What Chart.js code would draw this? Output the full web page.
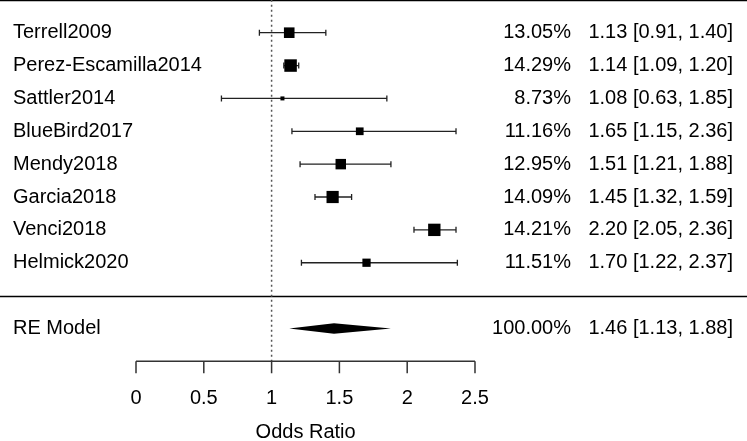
<!DOCTYPE html>
<html>
<head>
<meta charset="utf-8">
<script src="https://cdn.jsdelivr.net/npm/chart.js@4.4.1/dist/chart.umd.min.js"></script>
<style>
  body { margin: 0; background: #fff; }
  canvas { display: block; }
</style>
</head>
<body>
<canvas id="forestChart" width="747" height="441"></canvas>
<script>
// study data, top to bottom
const studies = ['Terrell2009', 'Perez-Escamilla2014', 'Sattler2014', 'BlueBird2017', 'Mendy2018', 'Garcia2018', 'Venci2018', 'Helmick2020'];
const weights = [13.05, 14.29, 8.73, 11.16, 12.95, 14.09, 14.21, 11.51];
const estimates = [1.13, 1.14, 1.08, 1.65, 1.51, 1.45, 2.20, 1.70];
const lower = [0.91, 1.09, 0.63, 1.15, 1.21, 1.32, 2.05, 1.22];
const upper = [1.40, 1.20, 1.85, 2.36, 1.88, 1.59, 2.36, 2.37];

// summary (random effects model)
const summaryLabel = 'RE Model';
const summaryWeight = 100.00;
const summaryEst = 1.46;
const summaryLower = 1.13;
const summaryUpper = 1.88;

// x axis
const tickValues = [0, 0.5, 1, 1.5, 2, 2.5];
const tickLabels = ['0', '0.5', '1', '1.5', '2', '2.5'];
const axisTitle = 'Odds Ratio';
const refLine = 1;

// rows: 8..1 for studies, -1 for summary
const rows = studies.map((s, i) => studies.length - i);
const summaryRow = -1;

const FONT = '20px "Liberation Sans", Arial, sans-serif';
const fmt = v => v.toFixed(2);

// square side in px, scaled between smallest and largest weight
const minW = Math.min(...weights), maxW = Math.max(...weights);
const sides = weights.map(w => 4 + (w - minW) / (maxW - minW) * 8.5);

const forestPlugin = {
    id: 'forest',
    beforeDatasetsDraw(chart) {
        const ctx = chart.ctx;
        const xs = chart.scales.x, ys = chart.scales.y;
        const W = chart.width;
        ctx.save();

        // top rule and separator above the summary
        ctx.strokeStyle = '#000';
        ctx.lineWidth = 1.5;
        [studies.length + 1, 0].forEach(r => {
            const y = Math.round(ys.getPixelForValue(r)) + 0.5;
            ctx.beginPath();
            ctx.moveTo(0, y);
            ctx.lineTo(W, y);
            ctx.stroke();
        });

        // dotted reference line at OR = 1
        const xr = xs.getPixelForValue(refLine);
        ctx.strokeStyle = '#555';
        ctx.lineWidth = 1.5;
        ctx.setLineDash([2, 3]);
        ctx.beginPath();
        ctx.moveTo(xr, ys.getPixelForValue(studies.length + 1));
        ctx.lineTo(xr, ys.getPixelForValue(-2));
        ctx.stroke();
        ctx.setLineDash([]);

        // confidence interval whiskers
        ctx.strokeStyle = '#222';
        ctx.lineWidth = 1.3;
        rows.forEach((r, i) => {
            const y = ys.getPixelForValue(r);
            const x1 = xs.getPixelForValue(lower[i]);
            const x2 = xs.getPixelForValue(upper[i]);
            ctx.beginPath();
            ctx.moveTo(x1, y); ctx.lineTo(x2, y);
            ctx.moveTo(x1, y - 3); ctx.lineTo(x1, y + 3);
            ctx.moveTo(x2, y - 3); ctx.lineTo(x2, y + 3);
            ctx.stroke();
        });

        // summary diamond
        const yd = ys.getPixelForValue(summaryRow);
        const hd = ys.getPixelForValue(summaryRow - 0.16) - yd;
        ctx.fillStyle = '#000';
        ctx.beginPath();
        ctx.moveTo(xs.getPixelForValue(summaryLower), yd);
        ctx.lineTo(xs.getPixelForValue(summaryEst), yd - hd);
        ctx.lineTo(xs.getPixelForValue(summaryUpper), yd);
        ctx.lineTo(xs.getPixelForValue(summaryEst), yd + hd);
        ctx.closePath();
        ctx.fill();

        // x axis
        const ya = ys.getPixelForValue(-2);
        const tickLen = 12;
        ctx.strokeStyle = '#333';
        ctx.lineWidth = 1.5;
        ctx.beginPath();
        ctx.moveTo(xs.getPixelForValue(tickValues[0]), ya);
        ctx.lineTo(xs.getPixelForValue(tickValues[tickValues.length - 1]), ya);
        tickValues.forEach(v => {
            const x = xs.getPixelForValue(v);
            ctx.moveTo(x, ya);
            ctx.lineTo(x, ya + tickLen);
        });
        ctx.stroke();

        // text
        ctx.font = FONT;
        ctx.fillStyle = '#000';
        ctx.textBaseline = 'middle';
        ctx.textAlign = 'center';
        tickValues.forEach((v, i) => {
            ctx.fillText(tickLabels[i], xs.getPixelForValue(v), ys.getPixelForValue(-3.12));
        });
        ctx.fillText(axisTitle, xs.getPixelForValue(refLine) + 34, ys.getPixelForValue(-4.18));

        const allLabels = studies.concat([summaryLabel]);
        const allRows = rows.concat([summaryRow]);
        const allW = weights.concat([summaryWeight]);
        const allEst = estimates.concat([summaryEst]);
        const allLo = lower.concat([summaryLower]);
        const allHi = upper.concat([summaryUpper]);
        allRows.forEach((r, i) => {
            const y = ys.getPixelForValue(r);
            ctx.textAlign = 'left';
            ctx.fillText(allLabels[i], 13, y);
            ctx.textAlign = 'right';
            ctx.fillText(fmt(allW[i]) + '%', 571, y);
            ctx.fillText(fmt(allEst[i]) + ' [' + fmt(allLo[i]) + ', ' + fmt(allHi[i]) + ']', 733, y);
        });

        ctx.restore();
    }
};

const ctx = document.getElementById('forestChart').getContext('2d');
new Chart(ctx, {
    type: 'scatter',
    data: {
        datasets: [{
            label: 'Studies',
            data: estimates.map((e, i) => ({ x: e, y: rows[i] })),
            pointStyle: 'rect',
            pointRadius: sides.map(s => s / Math.SQRT2),
            pointHoverRadius: sides.map(s => s / Math.SQRT2),
            backgroundColor: '#000',
            borderWidth: 0,
        }]
    },
    options: {
        responsive: false,
        animation: false,
        devicePixelRatio: 1,
        layout: { padding: 0, autoPadding: false },
        plugins: {
            legend: { display: false },
            tooltip: { enabled: false },
        },
        scales: {
            x: { type: 'linear', min: -1.003, max: 4.506, display: false },
            y: { type: 'linear', min: -4.425, max: 8.995, display: false },
        }
    },
    plugins: [forestPlugin]
});
</script>
</body>
</html>
